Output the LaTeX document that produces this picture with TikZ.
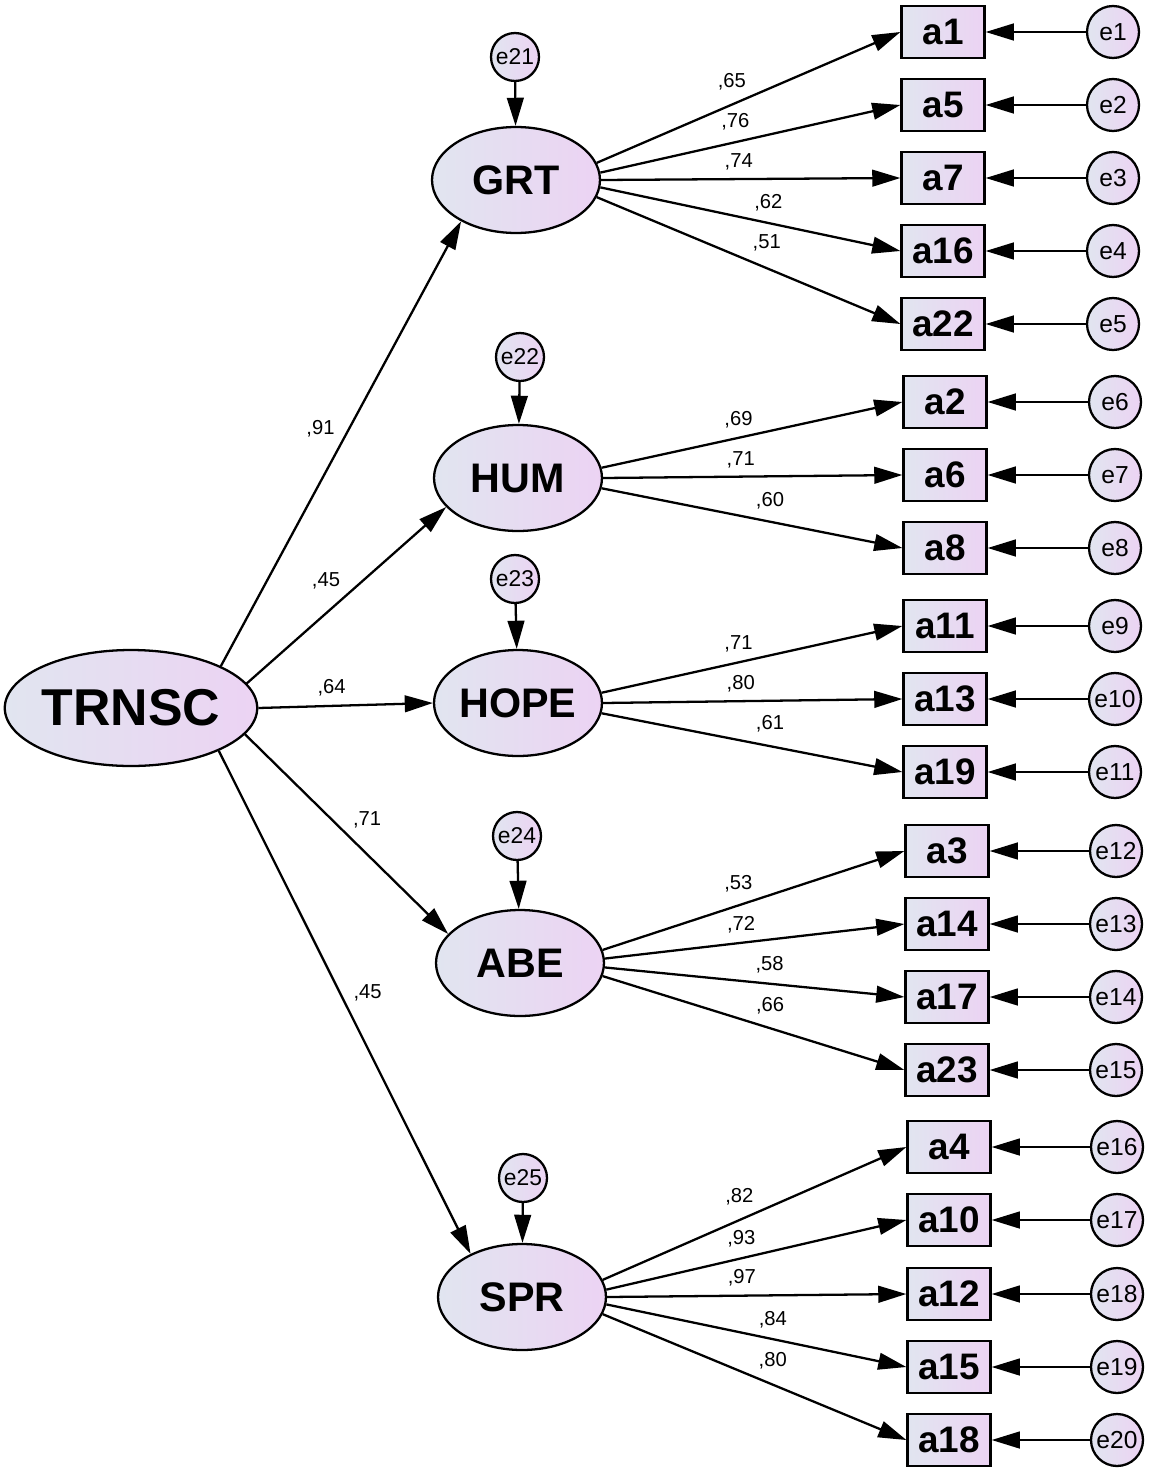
\documentclass[tikz,border=0pt]{standalone}
\usepackage{fontspec}
\setmainfont{Liberation Sans}
\usetikzlibrary{shapes.geometric,arrows.meta}
\definecolor{shadeL}{RGB}{225,229,240}
\definecolor{shadeR}{RGB}{236,211,243}
\begin{document}
\begin{tikzpicture}[x=0.02cm, y=-0.02cm]
\tikzstyle{latent}=[ellipse, draw, line width=1.3pt, left color=shadeL, right color=shadeR, inner sep=0pt, minimum width=3.36cm, minimum height=2.12cm, font=\fontsize{23.5}{27}\selectfont\bfseries]
\tikzstyle{toplatent}=[latent, minimum width=4.72cm, minimum height=2.32cm, font=\fontsize{29.5}{33}\selectfont\bfseries]
\tikzstyle{item}=[rectangle, draw, line width=1.3pt, left color=shadeL, right color=shadeR, inner sep=0pt, minimum width=1.66cm, minimum height=1.04cm, font=\fontsize{21}{24}\selectfont\bfseries]
\tikzstyle{err}=[circle, draw, line width=1.3pt, left color=shadeL, right color=shadeR, inner sep=0pt, minimum size=1.04cm, font=\fontsize{14}{16}\selectfont]
\tikzstyle{dist}=[err, minimum size=0.96cm, font=\fontsize{13}{15}\selectfont]
\tikzstyle{coef}=[inner sep=1pt, font=\fontsize{11.5}{13}\selectfont]
\tikzstyle{arr}=[-{Triangle[length=16pt,width=9.5pt]}, line width=1.3pt]
\useasboundingbox (0,0) rectangle (1157,1470);
% latent variables
\node[toplatent] (TRNSC) at (131, 708) {TRNSC};
\node[latent] (GRT) at (516, 180) {GRT};
\node[latent] (HUM) at (518, 478) {HUM};
\node[latent] (HOPE) at (518, 703) {HOPE};
\node[latent] (ABE) at (520, 963) {ABE};
\node[latent] (SPR) at (522, 1297) {SPR};
% disturbances
\node[dist] (e21) at (515, 57) {e21};
\node[dist] (e22) at (520, 357) {e22};
\node[dist] (e23) at (515, 579) {e23};
\node[dist] (e24) at (517, 836) {e24};
\node[dist] (e25) at (523, 1178) {e25};
% items
\node[item] (a1) at (943, 32) {a1};
\node[item] (a5) at (943, 105) {a5};
\node[item] (a7) at (943, 178) {a7};
\node[item] (a16) at (943, 251) {a16};
\node[item] (a22) at (943, 324) {a22};
\node[item] (a2) at (945, 402) {a2};
\node[item] (a6) at (945, 475) {a6};
\node[item] (a8) at (945, 548) {a8};
\node[item] (a11) at (945, 626) {a11};
\node[item] (a13) at (945, 699) {a13};
\node[item] (a19) at (945, 772) {a19};
\node[item] (a3) at (947, 851) {a3};
\node[item] (a14) at (947, 924) {a14};
\node[item] (a17) at (947, 997) {a17};
\node[item] (a23) at (947, 1070) {a23};
\node[item] (a4) at (949, 1147) {a4};
\node[item] (a10) at (949, 1220) {a10};
\node[item] (a12) at (949, 1294) {a12};
\node[item] (a15) at (949, 1367) {a15};
\node[item] (a18) at (949, 1440) {a18};
% errors
\node[err] (e1) at (1113, 32) {e1};
\node[err] (e2) at (1113, 105) {e2};
\node[err] (e3) at (1113, 178) {e3};
\node[err] (e4) at (1113, 251) {e4};
\node[err] (e5) at (1113, 324) {e5};
\node[err] (e6) at (1115, 402) {e6};
\node[err] (e7) at (1115, 475) {e7};
\node[err] (e8) at (1115, 548) {e8};
\node[err] (e9) at (1115, 626) {e9};
\node[err] (e10) at (1115, 699) {e10};
\node[err] (e11) at (1115, 772) {e11};
\node[err] (e12) at (1116, 851) {e12};
\node[err] (e13) at (1116, 924) {e13};
\node[err] (e14) at (1116, 997) {e14};
\node[err] (e15) at (1116, 1070) {e15};
\node[err] (e16) at (1117, 1147) {e16};
\node[err] (e17) at (1117, 1220) {e17};
\node[err] (e18) at (1117, 1294) {e18};
\node[err] (e19) at (1117, 1367) {e19};
\node[err] (e20) at (1117, 1440) {e20};
% structural paths
\draw [arr] (TRNSC.25) to node[coef, pos=.5, above left=2pt] {,91} (GRT.217);
\draw [arr] (TRNSC.12) to node[coef, pos=.5, above left=2pt] {,45} (HUM.202);
\draw [arr] (TRNSC.0) to node[coef, pos=.42, above=4pt] {,64} (HOPE.west);
\draw [arr] (TRNSC.-13) to node[coef, pos=.5, above right=2pt] {,71} (ABE.158);
\draw [arr] (TRNSC.-26) to node[coef, pos=.51, above right=2pt] {,45} (SPR.140);
% disturbance paths
\draw [arr] (e21) to (GRT);
\draw [arr] (e22) to (HUM);
\draw [arr] (e23) to (HOPE);
\draw [arr] (e24) to (ABE);
\draw [arr] (e25) to (SPR);
% loadings
\draw [arr] (GRT.12) to node[coef, pos=.445, above=6.8pt] {,65} (a1.west);
\draw [arr] (GRT.5.5) to node[coef, pos=.45, above=5pt] {,76} (a5.west);
\draw [arr] (GRT.0) to node[coef, pos=.46, above=3.4pt] {,74} (a7.west);
\draw [arr] (GRT.-5.5) to node[coef, pos=.56, above=5pt] {,62} (a16.west);
\draw [arr] (GRT.-12) to node[coef, pos=.56, above=8pt] {,51} (a22.west);
\draw [arr] (HUM.7) to node[coef, pos=.455, above=4pt] {,69} (a2.west);
\draw [arr] (HUM.0) to node[coef, pos=.46, above=3.4pt] {,71} (a6.west);
\draw [arr] (HUM.-7) to node[coef, pos=.56, above=5.7pt] {,60} (a8.west);
\draw [arr] (HOPE.7) to node[coef, pos=.455, above=4.3pt] {,71} (a11.west);
\draw [arr] (HOPE.0) to node[coef, pos=.46, above=3.4pt] {,80} (a13.west);
\draw [arr] (HOPE.-7) to node[coef, pos=.56, above=6.2pt] {,61} (a19.west);
\draw [arr] (ABE.9) to node[coef, pos=.45, above=6.2pt] {,53} (a3.west);
\draw [arr] (ABE.3.4) to node[coef, pos=.455, above=4pt] {,72} (a14.west);
\draw [arr] (ABE.-3.4) to node[coef, pos=.55, above=4.5pt] {,58} (a17.west);
\draw [arr] (ABE.-9) to node[coef, pos=.555, above=6.2pt] {,66} (a23.west);
\draw [arr] (SPR.12) to node[coef, pos=.45, above=6.8pt] {,82} (a4.west);
\draw [arr] (SPR.5.5) to node[coef, pos=.45, above=5pt] {,93} (a10.west);
\draw [arr] (SPR.0) to node[coef, pos=.45, above=4pt] {,97} (a12.west);
\draw [arr] (SPR.-5.5) to node[coef, pos=.555, above=4.5pt] {,84} (a15.west);
\draw [arr] (SPR.-12) to node[coef, pos=.56, above=7.4pt] {,80} (a18.west);
% measurement errors
\draw [arr] (e1) to (a1);
\draw [arr] (e2) to (a5);
\draw [arr] (e3) to (a7);
\draw [arr] (e4) to (a16);
\draw [arr] (e5) to (a22);
\draw [arr] (e6) to (a2);
\draw [arr] (e7) to (a6);
\draw [arr] (e8) to (a8);
\draw [arr] (e9) to (a11);
\draw [arr] (e10) to (a13);
\draw [arr] (e11) to (a19);
\draw [arr] (e12) to (a3);
\draw [arr] (e13) to (a14);
\draw [arr] (e14) to (a17);
\draw [arr] (e15) to (a23);
\draw [arr] (e16) to (a4);
\draw [arr] (e17) to (a10);
\draw [arr] (e18) to (a12);
\draw [arr] (e19) to (a15);
\draw [arr] (e20) to (a18);
\end{tikzpicture}
\end{document}
